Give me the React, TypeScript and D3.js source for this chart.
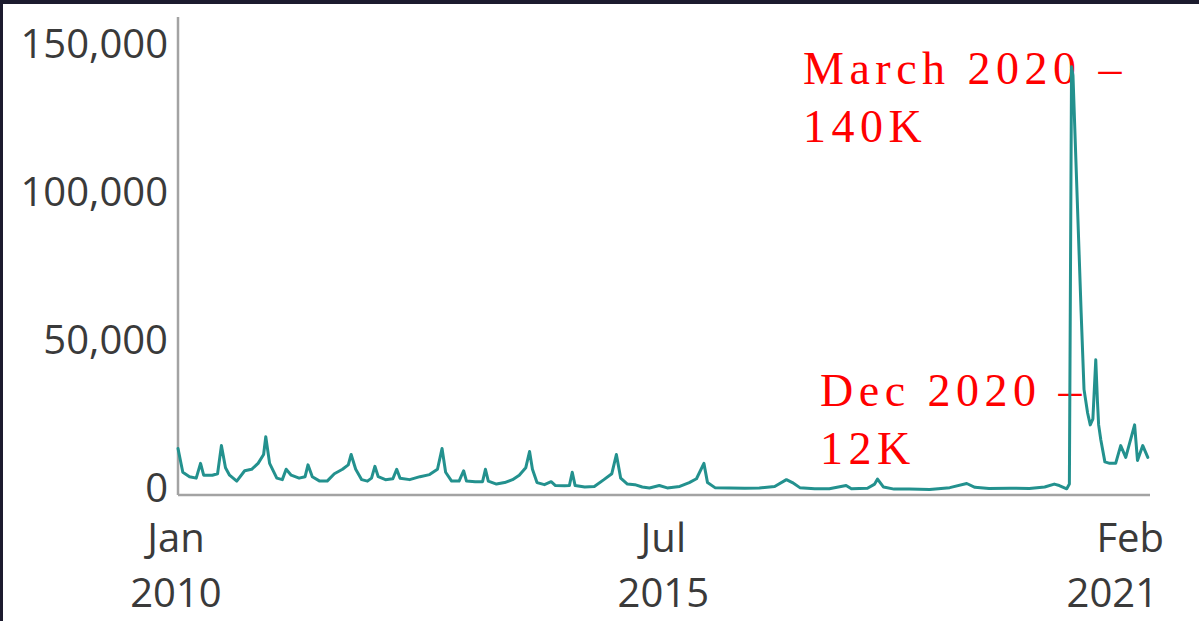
import * as React from 'react';
import * as d3 from 'd3';

// Sample points (date, searches)
const dates = [
  '2010-01-01', '2010-01-21', '2010-02-18', '2010-03-18', '2010-04-05', '2010-04-18', '2010-05-24', '2010-06-15',
  '2010-07-01', '2010-07-18', '2010-08-04', '2010-09-03', '2010-10-06', '2010-11-04', '2010-12-01', '2010-12-24',
  '2011-01-02', '2011-01-18', '2011-02-17', '2011-03-12', '2011-03-28', '2011-04-18', '2011-05-21', '2011-06-15',
  '2011-06-27', '2011-07-15', '2011-08-15', '2011-09-15', '2011-10-15', '2011-11-18', '2011-12-12', '2011-12-24',
  '2012-01-12', '2012-02-06', '2012-03-01', '2012-03-18', '2012-04-01', '2012-04-15', '2012-05-15', '2012-06-15',
  '2012-07-01', '2012-07-15', '2012-08-24', '2012-10-06', '2012-11-15', '2012-12-18', '2013-01-06', '2013-01-21',
  '2013-02-15', '2013-03-18', '2013-04-06', '2013-04-18', '2013-05-24', '2013-06-24', '2013-07-06', '2013-07-18',
  '2013-08-21', '2013-09-24', '2013-10-27', '2013-11-24', '2013-12-21', '2014-01-06', '2014-01-18', '2014-02-06',
  '2014-03-09', '2014-04-06', '2014-04-24', '2014-06-01', '2014-06-21', '2014-07-03', '2014-07-15', '2014-08-24',
  '2014-10-03', '2014-11-12', '2014-12-15', '2015-01-03', '2015-01-21', '2015-02-18', '2015-03-21', '2015-04-21',
  '2015-05-21', '2015-07-01', '2015-08-03', '2015-09-24', '2015-11-03', '2015-12-03', '2016-01-03', '2016-01-18',
  '2016-02-18', '2016-04-18', '2016-06-21', '2016-08-21', '2016-10-24', '2016-12-12', '2017-01-06', '2017-02-06',
  '2017-04-09', '2017-06-09', '2017-08-18', '2017-09-09', '2017-11-15', '2017-12-15', '2017-12-27', '2018-01-21',
  '2018-03-06', '2018-05-09', '2018-08-01', '2018-10-24', '2019-01-03', '2019-02-06', '2019-04-06', '2019-07-01',
  '2019-09-21', '2019-11-24', '2020-01-03', '2020-01-24', '2020-02-24', '2020-03-06', '2020-03-15', '2020-03-21',
  '2020-04-24', '2020-05-06', '2020-05-21', '2020-06-01', '2020-06-12', '2020-06-24', '2020-07-01', '2020-07-06',
  '2020-07-15', '2020-08-01', '2020-08-21', '2020-09-15', '2020-10-06', '2020-10-27', '2020-12-03', '2020-12-15',
  '2021-01-06', '2021-01-27',
];

const searches = [
  14000, 6000, 4500, 4000, 9000, 5000, 5000, 5500,
  15000, 7500, 5000, 3000, 6500, 7000, 9000, 12000,
  18000, 9000, 4000, 3500, 7000, 5000, 4000, 4500,
  8500, 4500, 3000, 3000, 5500, 7000, 8500, 12000,
  7000, 3500, 3000, 4000, 8000, 4500, 3500, 3800,
  7000, 4000, 3500, 4500, 5200, 7000, 14000, 6000,
  3000, 3000, 6500, 3000, 2800, 2800, 7000, 3000,
  2000, 2500, 3500, 5000, 7500, 13000, 7000, 2500,
  1800, 2800, 1500, 1400, 1500, 6000, 1500, 1000,
  1200, 3500, 5500, 12000, 4000, 2000, 1800, 1000,
  700, 1500, 700, 1200, 2500, 3800, 9000, 2500,
  800, 700, 600, 700, 1200, 3500, 2500, 800,
  400, 400, 1500, 400, 600, 2000, 3700, 1000,
  300, 300, 200, 800, 2200, 900, 500, 600,
  500, 1000, 2000, 1500, 400, 2000, 143000, 140000,
  60000, 34000, 26000, 22000, 24000, 44000, 30000, 22000,
  17000, 9500, 9000, 9000, 15000, 11000, 22000, 10000,
  15000, 11000,
];

const yTicks = [0, 50000, 100000, 150000];
const xTicks = ['2010-01-01', '2015-07-01', '2021-02-01'];
const xTickMonths = ['Jan', 'Jul', 'Feb'];
const xTickYears = ['2010', '2015', '2021'];

const annotations = [
  { lines: ['March 2020 –', '140K'], x: 803, y: 84 },
  { lines: ['Dec 2020 –', '12K'], x: 820, y: 406 },
];

const W = 1199;
const H = 621;

export default function App() {
  const parse = d3.timeParse('%Y-%m-%d');
  const data = dates.map((d, i) => ({ date: parse(d) as Date, value: searches[i] }));

  const x = d3.scaleTime()
    .domain([parse('2010-01-01') as Date, parse('2021-02-01') as Date])
    .range([178, 1149]);

  const y = d3.scaleLinear()
    .domain([0, 150000])
    .range([490, 46]);

  const line = d3.line<{ date: Date, value: number }>()
    .x(d => x(d.date))
    .y(d => y(d.value));

  const fmt = d3.format(',');
  const tickFont = "'Open Sans', sans-serif";

  return (
    <div style={{ position: 'absolute', left: 0, top: 0 }}>
      <svg width={W} height={H} style={{ display: 'block', background: '#fff' }}>
        {/* dark frame along top and left edges */}
        <rect x={0} y={0} width={W} height={4} fill="#1c1b2e" />
        <rect x={0} y={0} width={3} height={H} fill="#1c1b2e" />

        {/* axes */}
        <line x1={178} x2={178} y1={17} y2={495} stroke="#a3a3a3" strokeWidth={2.5} />
        <line x1={178} x2={1150} y1={495} y2={495} stroke="#a3a3a3" strokeWidth={2.5} />

        {yTicks.map(t => (
          <text key={t} x={168} y={y(t)} dy="0.3em" textAnchor="end"
            fontFamily={tickFont} fontSize={40} fill="#3a3a3a">{fmt(t)}</text>
        ))}

        {xTicks.map((t, i) => {
          const px = x(parse(t) as Date);
          const last = i === xTicks.length - 1;
          const cx = last ? px + 15 : px + (i === 0 ? -2 : 4);
          return (
            <g key={t} fontFamily={tickFont} fontSize={40} fill="#3a3a3a" textAnchor={last ? 'end' : 'middle'}>
              <text x={cx} y={552}>{xTickMonths[i]}</text>
              <text x={last ? px + 9 : cx} y={607}>{xTickYears[i]}</text>
            </g>
          );
        })}

        {annotations.map((a, i) => (
          <text key={i} x={a.x} y={a.y} fontFamily="'Liberation Serif', 'Times New Roman', serif"
            fontSize={46} letterSpacing={5.5} fill="#ff0000">
            {a.lines.map((l, j) => (
              <tspan key={j} x={a.x} dy={j === 0 ? 0 : 58}>{l}</tspan>
            ))}
          </text>
        ))}

        <path d={line(data) || ''} fill="none" stroke="#23918e" strokeWidth={3}
          strokeLinejoin="round" strokeLinecap="round" />
      </svg>
    </div>
  );
}
